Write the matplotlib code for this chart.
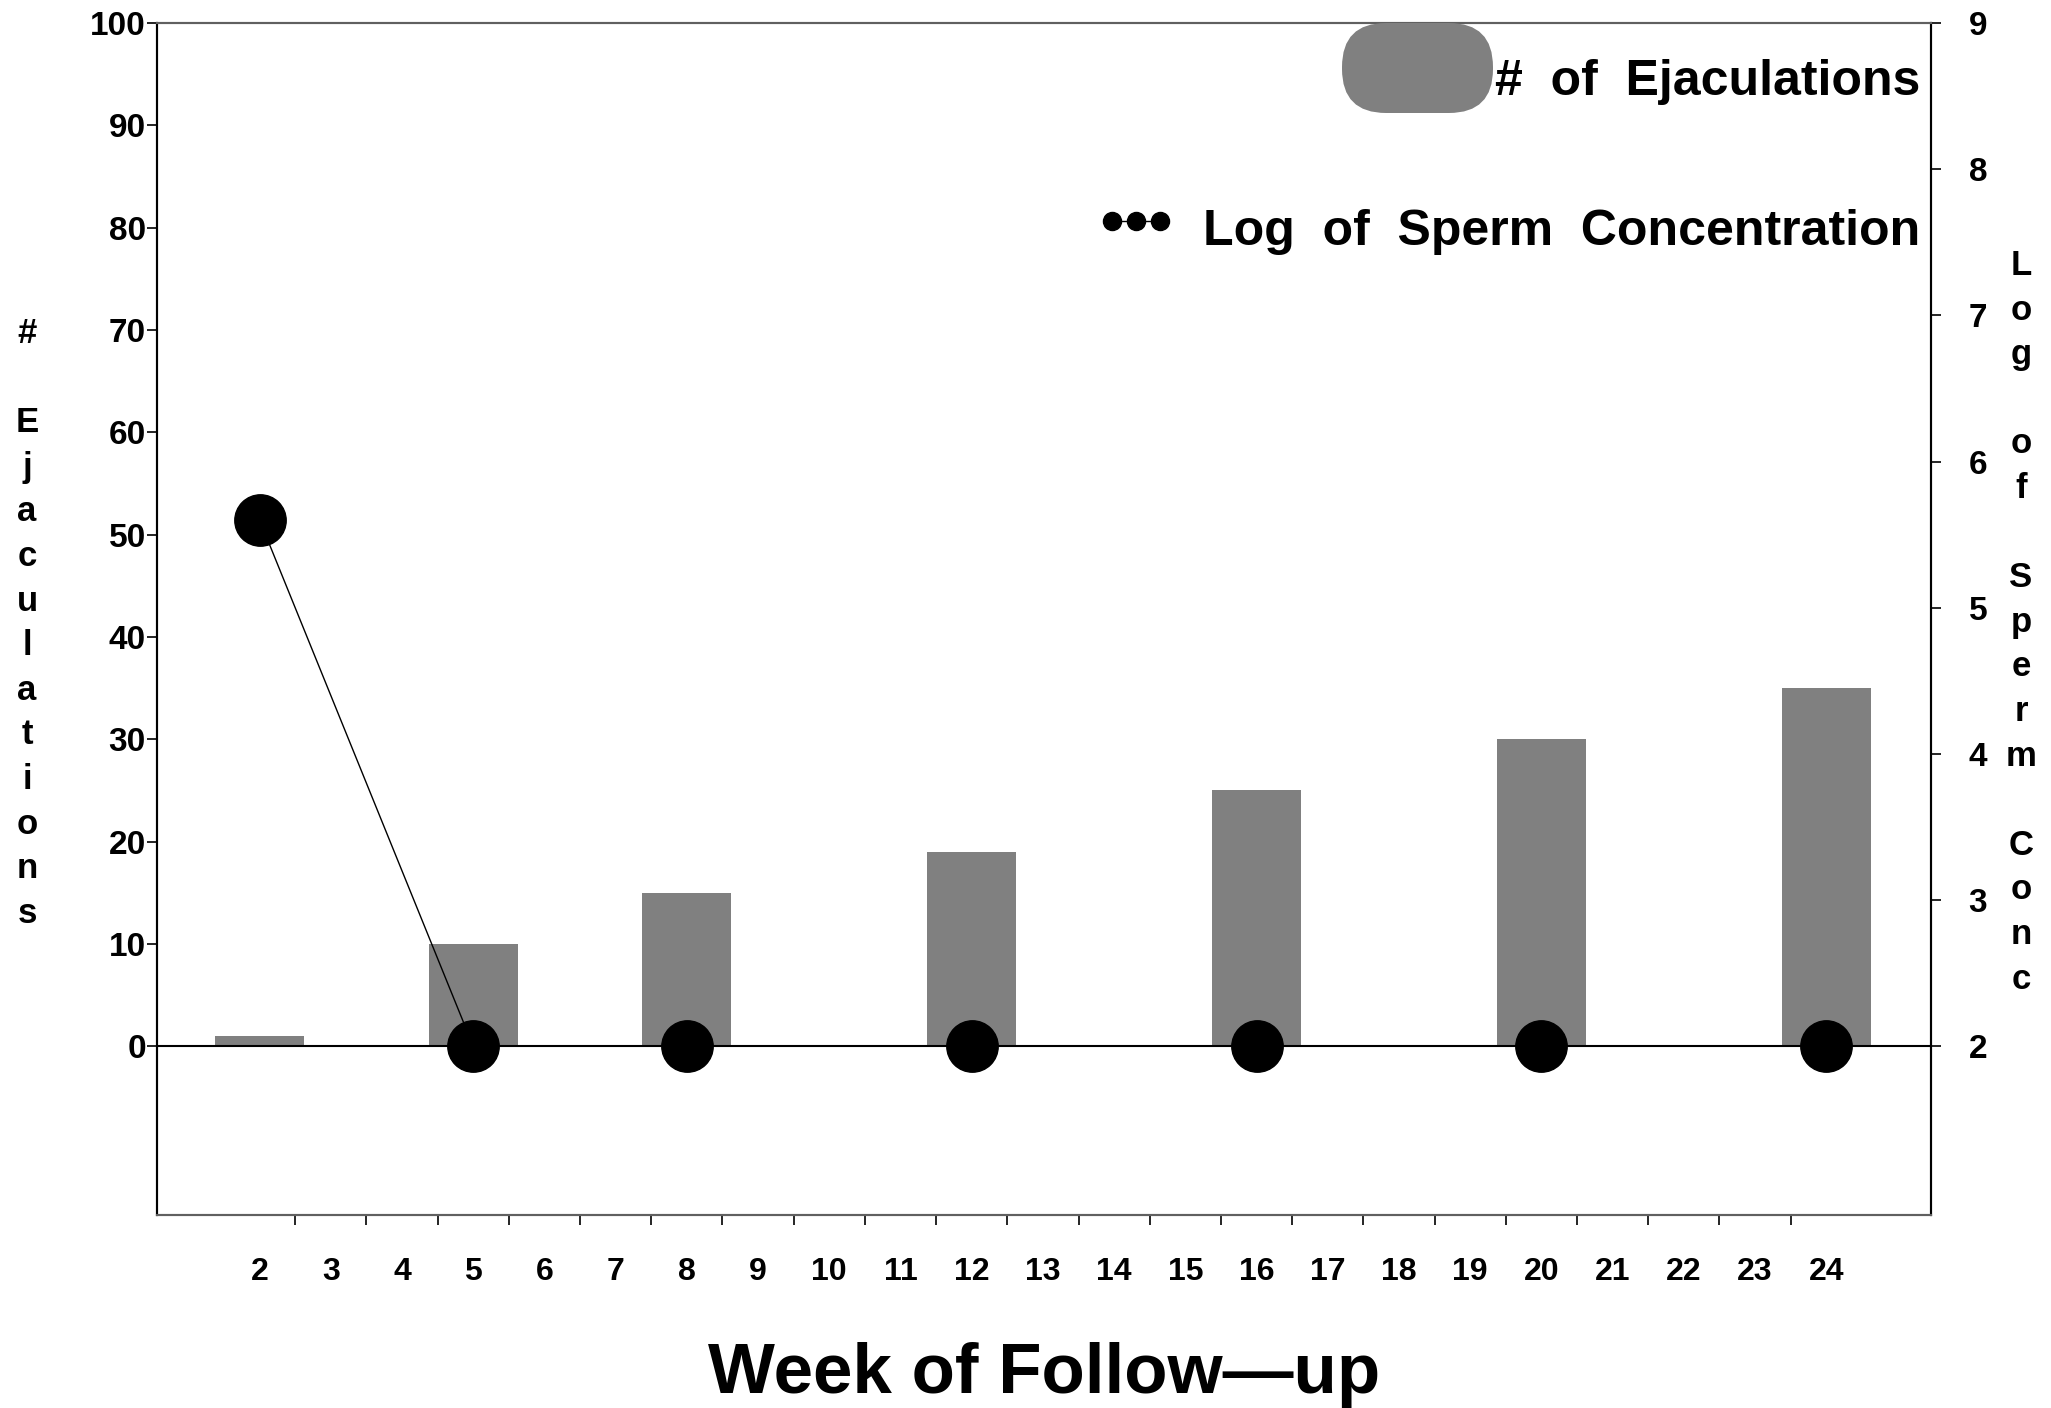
import matplotlib
matplotlib.use("Agg")
import matplotlib.pyplot as plt
from matplotlib.patches import FancyBboxPatch
from matplotlib.lines import Line2D

# data
weeks = [2, 5, 8, 12, 16, 20, 24]
ejaculations = [1, 10, 15, 19, 25, 30, 35]
log_sperm_conc = [5.6, 2.0, 2.0, 2.0, 2.0, 2.0, 2.0]

week_labels = list(range(2, 25))
left_ticks = list(range(0, 101, 10))
right_ticks = list(range(2, 10))

W, H = 2051, 1408
FONT = "Liberation Sans"
plt.rcParams["font.family"] = [FONT, "DejaVu Sans"]
plt.rcParams["font.weight"] = "bold"

fig = plt.figure(figsize=(W / 100, H / 100), dpi=100)

# axes box in pixels: left 157, right 1931, top 23, bottom 1215
ax = fig.add_axes([157 / W, 1 - 1215 / H, (1931 - 157) / W, (1215 - 23) / H])
ax2 = ax.twinx()

ax.bar(weeks, ejaculations, width=1.25, color="#808080", zorder=2)
ax.axhline(0, color="black", lw=1.5, zorder=3)

ax2.plot(weeks, log_sperm_conc, color="black", lw=1.0, marker="o",
         markersize=37, markerfacecolor="black", markeredgecolor="black",
         zorder=4, clip_on=False)

ax.set_xlim(0.56, 25.47)
ax.set_ylim(-16.5, 100)
ax2.set_ylim(2 - 16.5 * 0.07, 9)

# x labels on whole weeks, tick marks between weeks
ax.set_xticks(week_labels)
ax.set_xticklabels([str(w) for w in week_labels], fontsize=23, fontweight="bold")
ax.set_xticks([w + 0.5 for w in week_labels[:-1]], minor=True)
ax.tick_params(axis="x", which="major", length=0, pad=30)
ax.tick_params(axis="x", which="minor", length=7, width=1.2, color="black")

ax.set_yticks(left_ticks)
ax.set_yticklabels([str(v) for v in left_ticks], fontsize=24, fontweight="bold")
ax.tick_params(axis="y", length=7, width=1.2, pad=1)

ax2.set_yticks(right_ticks)
ax2.set_yticklabels([str(v) for v in right_ticks], fontsize=24, fontweight="bold")
ax2.tick_params(axis="y", length=7, width=1.2, pad=20)

for a in (ax, ax2):
    for side in ("left", "right"):
        a.spines[side].set_linewidth(1.5)
        a.spines[side].set_color("black")
    for side in ("top", "bottom"):
        a.spines[side].set_linewidth(1.5)
        a.spines[side].set_color("#606060")

# stacked axis titles, one character per line
step = 44.6
for i, ch in enumerate("# Ejaculations"):
    fig.text(27 / W, 1 - (343 + i * step) / H, ch, ha="center", va="baseline",
             fontsize=25, fontweight="bold")
for i, ch in enumerate("Log of Sperm Conc"):
    fig.text(2021 / W, 1 - (275 + i * step) / H, ch, ha="center", va="baseline",
             fontsize=25, fontweight="bold")

fig.text(1044 / W, 1 - 1393 / H, "Week of Follow\u2014up", ha="center",
         va="baseline", fontsize=51, fontweight="bold")

# legend drawn by hand (SAS style: wide word gaps)
pill = FancyBboxPatch((1342 / W, 1 - 113 / H), 151 / W, 90 / H,
                      boxstyle="round,pad=0,rounding_size=%f" % (44 / W),
                      mutation_aspect=W / H, transform=fig.transFigure,
                      facecolor="#808080", edgecolor="none", zorder=1)
fig.add_artist(pill)
fig.text(1920 / W, 1 - 95 / H, "#  of  Ejaculations", ha="right", va="baseline",
         fontsize=36, fontweight="bold")
fig.add_artist(Line2D([1112 / W, 1136 / W, 1160 / W], [1 - 221 / H] * 3,
                      transform=fig.transFigure, color="black", lw=1.0,
                      marker="o", markersize=13))
fig.text(1920 / W, 1 - 245 / H, "Log  of  Sperm  Concentration", ha="right",
         va="baseline", fontsize=36, fontweight="bold")

fig.savefig("out.png", dpi=100)
